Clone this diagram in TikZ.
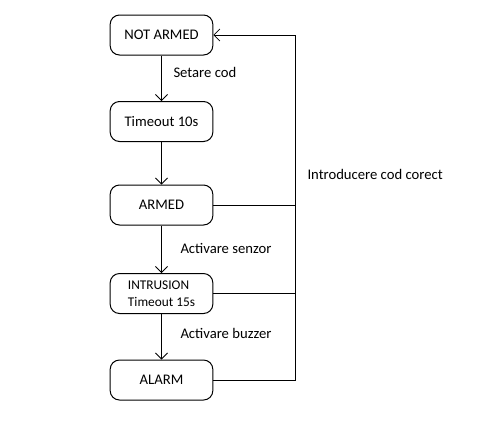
\documentclass[tikz,border=0pt]{standalone}
\usepackage{fontspec}
\setmainfont{Carlito}
\usetikzlibrary{arrows.meta}

\begin{document}
\begin{tikzpicture}[x=0.75pt,y=-0.75pt,line width=0.75pt,
        state/.style={draw,rounded corners=7pt,minimum width=77pt,minimum height=30pt,inner sep=0pt,font=\fontsize{11}{13}\selectfont},
        lbl/.style={anchor=west,inner sep=0pt,font=\fontsize{11}{13}\selectfont},
        arr/.style={-{Straight Barb[length=4.5pt,width=9pt,line width=0.6pt]}}]
    \useasboundingbox (0,0) rectangle (484,429);

    \def\cx{161.5}
    \def\busx{295}

    % States
    \node[state] (notarmed) at (\cx,35) {NOT ARMED};
    \node[state] (timeout) at (\cx,121.5) {Timeout 10s};
    \node[state] (armed) at (\cx,205) {ARMED};
    \node[state,align=left,font=\fontsize{10}{13}\selectfont] (intrusion) at (\cx,293.5) {INTRUSION\\Timeout 15s};
    \node[state] (alarm) at (\cx,380) {ALARM};

    \draw[arr] (notarmed) -- (timeout);
    \draw[arr] (timeout) -- (armed);
    \draw[arr] (armed) -- (intrusion);
    \draw[arr] (intrusion) -- (alarm);

    % Return line on the right
    \coordinate (bus) at (\busx,0);
    \draw (armed.east) -- (bus |- armed.east);
    \draw (intrusion.east) -- (bus |- intrusion.east);
    \draw[arr] (alarm.east) -- (bus |- alarm.east) -- (bus |- notarmed.east) -- (notarmed.east);

    % Labels
    \node[lbl] (l1) at (173,72) {Setare cod};
    \node[lbl] (l2) at (180,248) {Activare senzor};
    \node[lbl] (l3) at (180,333) {Activare buzzer};
    \node[lbl] (l4) at (307,174) {Introducere cod corect};
\end{tikzpicture}
\end{document}
